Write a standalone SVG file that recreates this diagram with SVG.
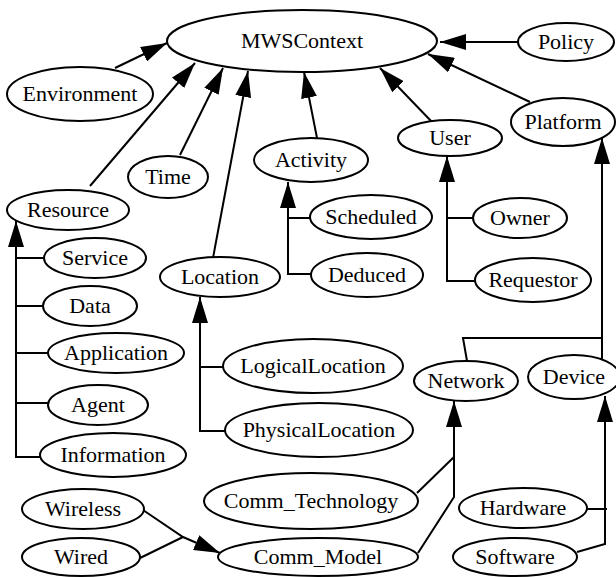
<svg xmlns="http://www.w3.org/2000/svg" width="616" height="577" viewBox="0 0 616 577">
<style>
  ellipse { fill: #ffffff; stroke: #000000; stroke-width: 2; }
  text { font-size: 22px; text-anchor: middle; fill: #000000; }
  .e { fill: none; stroke: #000000; stroke-width: 2; }
  .a { marker-end: url(#arr); }
</style>
<defs>
  <marker id="arr" markerUnits="userSpaceOnUse" markerWidth="26" markerHeight="16" refX="26" refY="8" orient="auto">
    <path d="M0,0 L26,8 L0,16 Z" fill="#000000"/>
  </marker>
</defs>
<rect x="0" y="0" width="616" height="577" fill="#ffffff"/>
<g id="connectors">
  <path class="e a" d="M115,68 L167,43"/>
  <path class="e a" d="M90,186 L195,63"/>
  <path class="e a" d="M180,155 L223,68"/>
  <path class="e a" d="M213,258 L248,71"/>
  <path class="e a" d="M317,138 L304,72"/>
  <path class="e a" d="M432,122 L380,68"/>
  <path class="e a" d="M530,102 L428,54"/>
  <path class="e a" d="M518,42 L440,42"/>
  <path class="e a" d="M311,274 H288 V182"/>
  <path class="e" d="M311,218 H288"/>
  <path class="e a" d="M475,281 H447 V156"/>
  <path class="e" d="M473,218 H447"/>
  <path class="e a" d="M40,457 H16 V221"/>
  <path class="e" d="M44,258 H16"/>
  <path class="e" d="M44,306 H16"/>
  <path class="e" d="M48,353 H16"/>
  <path class="e" d="M48,403 H16"/>
  <path class="e a" d="M227,431 H200 V297"/>
  <path class="e" d="M223,367 H200"/>
  <path class="e a" d="M602,360 V138"/>
  <path class="e" d="M467,361 L463,338 H602"/>
  <path class="e a" d="M418,553 L454,497 V401"/>
  <path class="e" d="M417,493 L454,457"/>
  <path class="e a" d="M577,552 L605,544 V396"/>
  <path class="e" d="M587,509 H607"/>
  <path class="e a" d="M143,510 L183,537 L220,553"/>
  <path class="e" d="M138,559 L183,537"/>
</g>
<g font-family="'Liberation Serif', 'Times New Roman', serif">
<g id="MWSContext"><ellipse cx="302" cy="41" rx="135" ry="31"/><text x="302" y="48">MWSContext</text></g>
<g id="Policy"><ellipse cx="566" cy="42" rx="48" ry="19"/><text x="566" y="49">Policy</text></g>
<g id="Environment"><ellipse cx="80" cy="94" rx="73" ry="27"/><text x="80" y="101">Environment</text></g>
<g id="Platform"><ellipse cx="563" cy="122" rx="52" ry="24"/><text x="563" y="129">Platform</text></g>
<g id="User"><ellipse cx="450" cy="138" rx="52" ry="18"/><text x="450" y="145">User</text></g>
<g id="Activity"><ellipse cx="311" cy="160" rx="57" ry="22"/><text x="311" y="167">Activity</text></g>
<g id="Time"><ellipse cx="168" cy="177" rx="40" ry="21"/><text x="168" y="184">Time</text></g>
<g id="Resource"><ellipse cx="68" cy="210" rx="61" ry="20"/><text x="68" y="217">Resource</text></g>
<g id="Scheduled"><ellipse cx="371" cy="217" rx="61" ry="22"/><text x="371" y="224">Scheduled</text></g>
<g id="Owner"><ellipse cx="520" cy="218" rx="47" ry="20"/><text x="520" y="225">Owner</text></g>
<g id="Service"><ellipse cx="95" cy="258" rx="51" ry="20"/><text x="95" y="265">Service</text></g>
<g id="Deduced"><ellipse cx="367" cy="275" rx="56" ry="22"/><text x="367" y="282">Deduced</text></g>
<g id="Location"><ellipse cx="220" cy="277" rx="60" ry="20"/><text x="220" y="284">Location</text></g>
<g id="Requestor"><ellipse cx="533" cy="280" rx="58" ry="22"/><text x="533" y="287">Requestor</text></g>
<g id="Data"><ellipse cx="90" cy="306" rx="47" ry="20"/><text x="90" y="313">Data</text></g>
<g id="Application"><ellipse cx="116" cy="353" rx="68" ry="20"/><text x="116" y="360">Application</text></g>
<g id="LogicalLocation"><ellipse cx="313" cy="366" rx="90" ry="27"/><text x="313" y="373">LogicalLocation</text></g>
<g id="Device"><ellipse cx="574" cy="377" rx="46" ry="22"/><text x="574" y="384">Device</text></g>
<g id="Network"><ellipse cx="466" cy="381" rx="52" ry="20"/><text x="466" y="388">Network</text></g>
<g id="Agent"><ellipse cx="98" cy="405" rx="50" ry="20"/><text x="98" y="412">Agent</text></g>
<g id="PhysicalLocation"><ellipse cx="319" cy="430" rx="94" ry="27"/><text x="319" y="437">PhysicalLocation</text></g>
<g id="Information"><ellipse cx="113" cy="455" rx="73" ry="22"/><text x="113" y="462">Information</text></g>
<g id="Comm_Technology"><ellipse cx="311" cy="501" rx="107" ry="28"/><text x="311" y="508">Comm_Technology</text></g>
<g id="Wireless"><ellipse cx="83" cy="509" rx="61" ry="20"/><text x="83" y="516">Wireless</text></g>
<g id="Hardware"><ellipse cx="523" cy="508" rx="64" ry="20"/><text x="523" y="515">Hardware</text></g>
<g id="Wired"><ellipse cx="81" cy="557" rx="59" ry="19"/><text x="81" y="564">Wired</text></g>
<g id="Comm_Model"><ellipse cx="318" cy="557" rx="100" ry="19"/><text x="318" y="564">Comm_Model</text></g>
<g id="Software"><ellipse cx="515" cy="557" rx="62" ry="19"/><text x="515" y="564">Software</text></g>
</g>
</svg>
